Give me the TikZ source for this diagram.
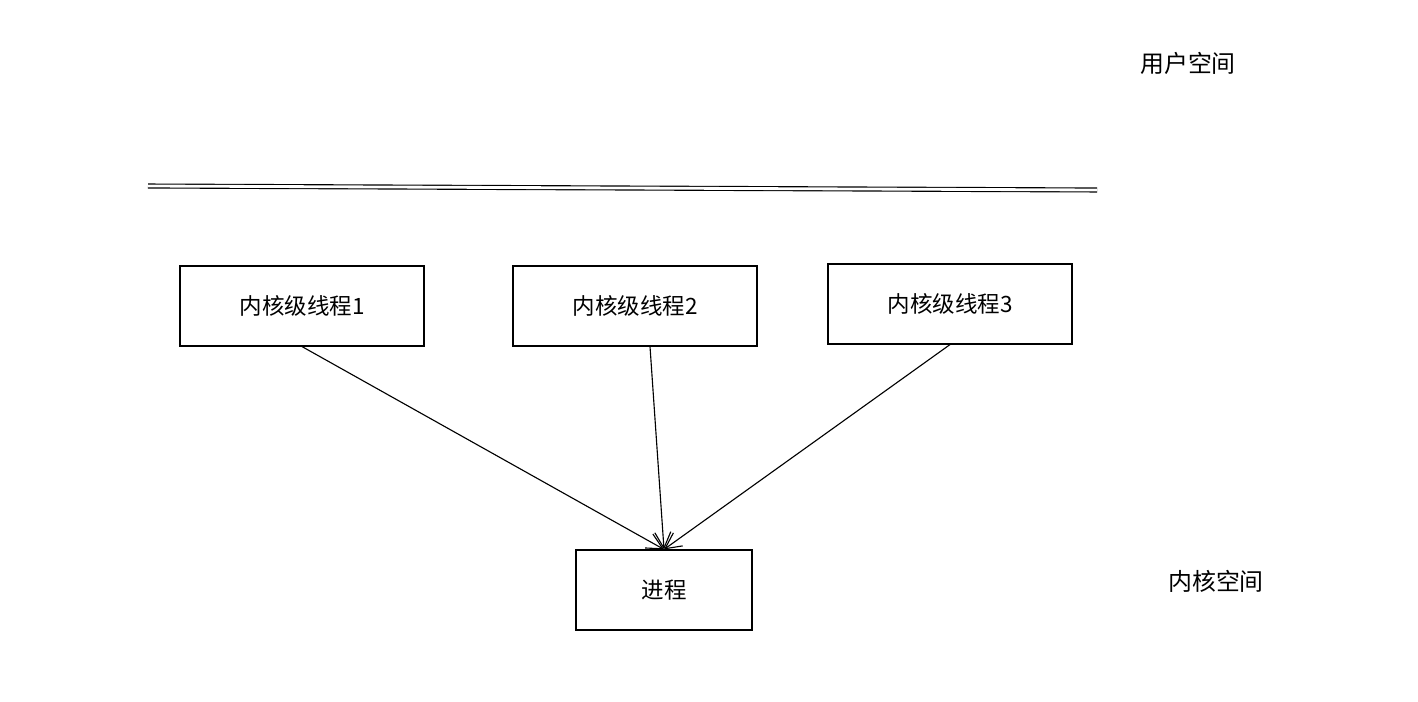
\documentclass[tikz,border=0pt]{standalone}
\usepackage{fontspec}
\setmainfont{Noto Sans CJK SC}
\usetikzlibrary{arrows.meta,positioning}
\begin{document}
\begin{tikzpicture}[x=0.025cm,y=-0.025cm,
	block/.style ={rectangle, draw=black, thick, minimum width=6.1cm,
		minimum height=2cm, font=\fontsize{16}{19}\selectfont},
	label_text/.style ={font=\fontsize{17}{20}\selectfont},
	line/.style ={draw, thick, -{Straight Barb[length=4mm,width=4mm]}}]
	\useasboundingbox (0,0) rectangle (1418,702);
	% spaces
	\node [label_text] (user) at (1188,63) {用户空间};
	\node [label_text] (kernel) at (1216,581) {内核空间};
	\coordinate (sepL) at (148,186);
	\coordinate (sepR) at (1097,190);
	\draw [thick, double, double distance=2pt] (sepL) -- (sepR);
	% kernel threads
	\node [block] (thread1) at (302,306) {内核级线程1};
	\node [block] (thread2) at (635,306) {内核级线程2};
	\node [block] (thread3) at (950,304) {内核级线程3};
	\node [block, minimum width=4.4cm] (proc) at (664,590) {进程};
	% connecting nodes with paths
	\begin{scope}[every path/.style=line]
		\path (thread1.south) -- (proc.north);
		\path (thread2.south) ++(15,0) coordinate (t2) (t2) -- (proc.north);
		\path (thread3.south) -- (proc.north);
	\end{scope}
\end{tikzpicture}
\end{document}
